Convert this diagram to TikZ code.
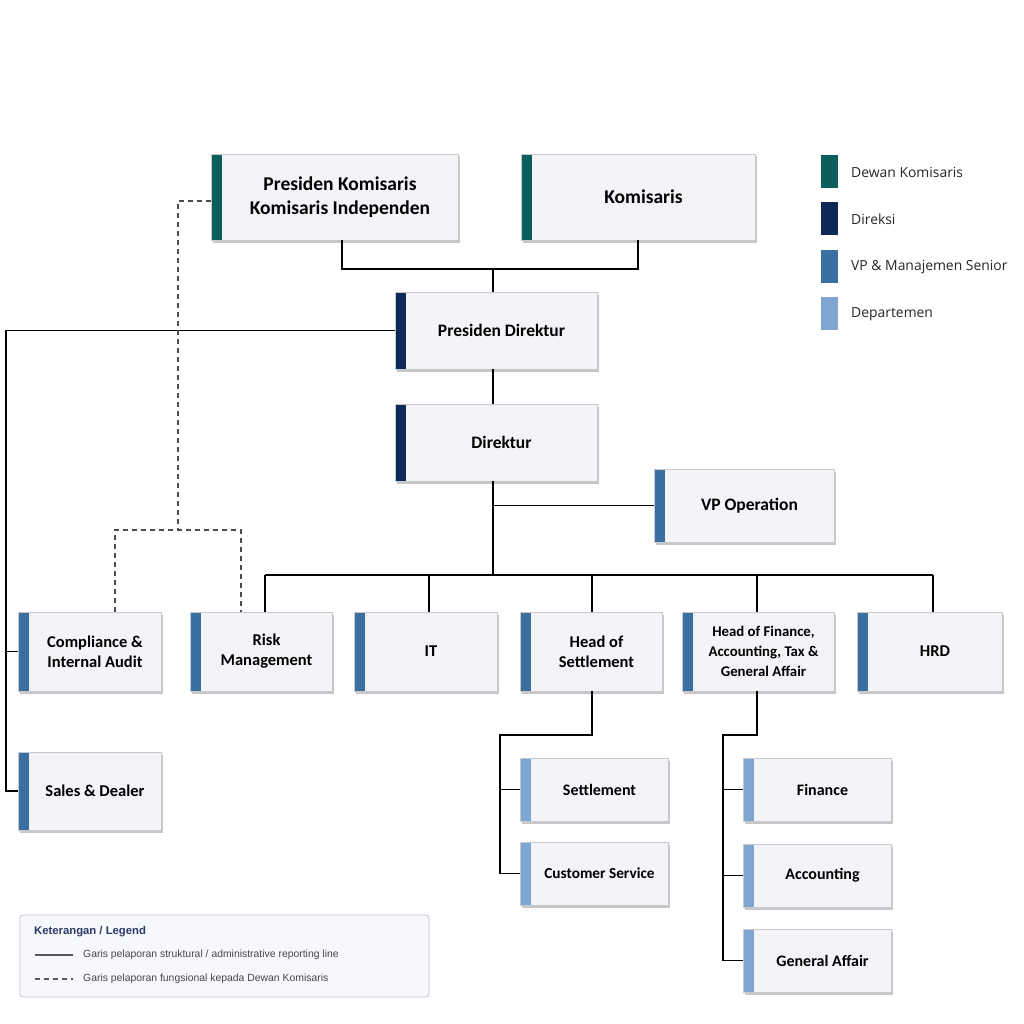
\documentclass[tikz,border=0pt]{standalone}
\usepackage{fontspec}
\setmainfont{Carlito}
\newfontfamily\legfont{Liberation Sans}
\newfontfamily\keyfont{Open Sans}
\usetikzlibrary{shadows}
\definecolor{cteal}{RGB}{12,94,92}
\definecolor{cnavy}{RGB}{13,42,86}
\definecolor{cvp}{RGB}{58,111,160}
\definecolor{cdept}{RGB}{127,166,208}
\definecolor{boxfill}{RGB}{243,244,247}
\definecolor{boxline}{RGB}{200,201,206}
\definecolor{legfill}{RGB}{246,248,252}
\definecolor{legline}{RGB}{190,194,202}
\definecolor{legtitle}{RGB}{43,58,103}
\definecolor{legtext}{RGB}{70,70,70}
\tikzset{
  obox/.style={draw=boxline, line width=0.8pt, fill=boxfill, inner sep=0pt,
    drop shadow={shadow xshift=2pt, shadow yshift=-2.5pt, opacity=0.22, fill=black}},
  lbl/.style={font=\bfseries\fontsize{16.5}{20}\selectfont, align=center, inner sep=0pt},
  conn/.style={line width=1.5pt, black},
  dconn/.style={line width=1.3pt, black!70, dash pattern=on 5pt off 4pt},
  swatch/.style={inner sep=0pt, minimum width=17pt, minimum height=33pt},
  keytxt/.style={font=\keyfont\fontsize{13.9}{16}\selectfont, anchor=west, inner sep=0pt, text=black!85},
}
\newcommand\obx[7]{%
  \node[obox, minimum width={(#4-#2)*1pt}, minimum height={(#5-#3)*1pt},
    path picture={\fill[#6] (path picture bounding box.north west) rectangle ([xshift=11pt]path picture bounding box.south west);}]
    (#1) at ({(#2+#4)/2},{(#3+#5)/2}) {};
  \node[lbl] (#1-l) at ({(#2+#4)/2+5.5},{(#3+#5)/2}) {#7};
}
\begin{document}
\begin{tikzpicture}[x=1pt,y=-1pt]
\useasboundingbox (0,0) rectangle (1024,1024);
% boxes
\obx{pk}{211}{154}{458}{240}{cteal}{\fontsize{19.5}{25}\selectfont Presiden Komisaris\\[4.5pt]\fontsize{19.5}{25}\selectfont Komisaris Independen}
\obx{kom}{521}{154}{755}{240}{cteal}{\fontsize{19.5}{24}\selectfont Komisaris}
\obx{pd}{395}{292}{597}{369}{cnavy}{\fontsize{17.5}{21}\selectfont Presiden Direktur}
\obx{dir}{395}{404}{597}{481}{cnavy}{\fontsize{17.5}{21}\selectfont Direktur}
\obx{vp}{654}{469}{834}{542}{cvp}{\fontsize{17.5}{21}\selectfont VP Operation}
\obx{comp}{18}{612}{161}{691}{cvp}{Compliance \&\\Internal Audit}
\obx{risk}{190}{612}{332}{691}{cvp}{Risk\\Management}
\obx{it}{354}{612}{497}{691}{cvp}{IT}
\obx{hs}{520}{612}{662}{691}{cvp}{Head of\\Settlement}
\obx{hf}{682}{612}{834}{691}{cvp}{\fontsize{14.8}{19}\selectfont Head of Finance,\\\fontsize{14.8}{19}\selectfont Accounting, Tax \&\\\fontsize{14.8}{19}\selectfont General Affair}
\obx{hrd}{857}{612}{1002}{691}{cvp}{HRD}
\obx{sales}{18}{752}{161}{830}{cvp}{Sales \& Dealer}
\obx{set}{520}{758}{668}{821}{cdept}{\fontsize{16}{19}\selectfont Settlement}
\obx{cs}{520}{842}{668}{905}{cdept}{\fontsize{15.3}{19}\selectfont Customer Service}
\obx{fin}{743}{758}{891}{821}{cdept}{\fontsize{16}{19}\selectfont Finance}
\obx{acc}{743}{844}{891}{907}{cdept}{\fontsize{16}{19}\selectfont Accounting}
\obx{ga}{743}{929}{891}{992}{cdept}{\fontsize{16}{19}\selectfont General Affair}
% key coordinates
\coordinate (jtop) at (493,269);
\coordinate (bus) at (493,575);
\coordinate (bL) at (265,575);
\coordinate (bIT) at (429,575);
\coordinate (bHS) at (592,575);
\coordinate (bHF) at (757,575);
\coordinate (bR) at (933,575);
\coordinate (lft) at (6,329);
\coordinate (dv) at (178,530);
\coordinate (d1) at (115,530);
\coordinate (d2) at (241,530);
\coordinate (s1) at (592,735);
\coordinate (s2) at (500,735);
\coordinate (f1) at (757,735);
\coordinate (f2) at (723,735);
% structural lines
\draw[conn] ([xshift=7.5pt]pk.south) |- (jtop);
\draw[conn] (kom.south) |- (jtop);
\draw[conn] (jtop) -- (jtop |- pd.north);
\draw[conn] (pd.south -| jtop) -- (dir.north -| jtop);
\draw[conn] (dir.south -| jtop) -- (bus);
\draw[conn] (vp.west) -- (vp.west -| jtop);
\draw[conn] (bL) -- (bR);
\draw[conn] (bL) -- (bL |- risk.north);
\draw[conn] (bIT) -- (bIT |- it.north);
\draw[conn] (bHS) -- (bHS |- hs.north);
\draw[conn] (bHF) -- (bHF |- hf.north);
\draw[conn] (bR) -- (bR |- hrd.north);
\draw[conn] (pd.west) -- (pd.west -| lft) -- (lft |- sales.west) -- (sales.west);
\draw[conn] (lft |- comp.west) -- (comp.west);
\draw[conn] (hs.south -| s1) -- (s1) -- (s2) -- (s2 |- cs.west) -- (cs.west);
\draw[conn] (s2 |- set.west) -- (set.west);
\draw[conn] (hf.south -| f1) -- (f1) -- (f2) -- (f2 |- ga.west) -- (ga.west);
\draw[conn] (f2 |- fin.west) -- (fin.west);
\draw[conn] (f2 |- acc.west) -- (acc.west);
% functional (dashed) lines
\draw[dconn] ([yshift=-4pt]pk.west) -| (dv);
\draw[dconn] (d1 |- comp.north) -- (d1) -- (d2) -- (d2 |- risk.north);
% colour key
\node[swatch, fill=cteal] (k1) at (829.5,171.5) {};
\node[swatch, fill=cnavy] (k2) at (829.5,218.5) {};
\node[swatch, fill=cvp] (k3) at (829.5,266.5) {};
\node[swatch, fill=cdept] (k4) at (829.5,313.5) {};
\node[keytxt] (k1t) at (851,172) {Dewan Komisaris};
\node[keytxt] (k2t) at (851,219) {Direksi};
\node[keytxt] (k3t) at (851,267) {VP \& Manajemen Senior};
\node[keytxt] (k4t) at (851,314) {Departemen};
% line legend
\node[draw=legline, line width=0.8pt, fill=legfill, rounded corners=3pt, minimum width=409pt, minimum height=82pt, inner sep=0pt] (leg) at (224.5,956) {};
\node[anchor=west, inner sep=0pt, font=\legfont\bfseries\fontsize{11.3}{13}\selectfont, text=legtitle] (legt) at (34,932) {Keterangan / Legend};
\coordinate (la1) at (35,955);
\coordinate (la2) at (73,955);
\coordinate (lb1) at (35,979);
\coordinate (lb2) at (73,979);
\draw[line width=1.3pt, black!65] (la1) -- (la2);
\draw[line width=1.3pt, black!65, dash pattern=on 5pt off 4pt] (lb1) -- (lb2);
\node[anchor=west, inner sep=0pt, font=\legfont\fontsize{10.4}{12}\selectfont, text=legtext] (lta) at (83,955) {Garis pelaporan struktural / administrative reporting line};
\node[anchor=west, inner sep=0pt, font=\legfont\fontsize{10.4}{12}\selectfont, text=legtext] (ltb) at (83,979) {Garis pelaporan fungsional kepada Dewan Komisaris};
\end{tikzpicture}
\end{document}
